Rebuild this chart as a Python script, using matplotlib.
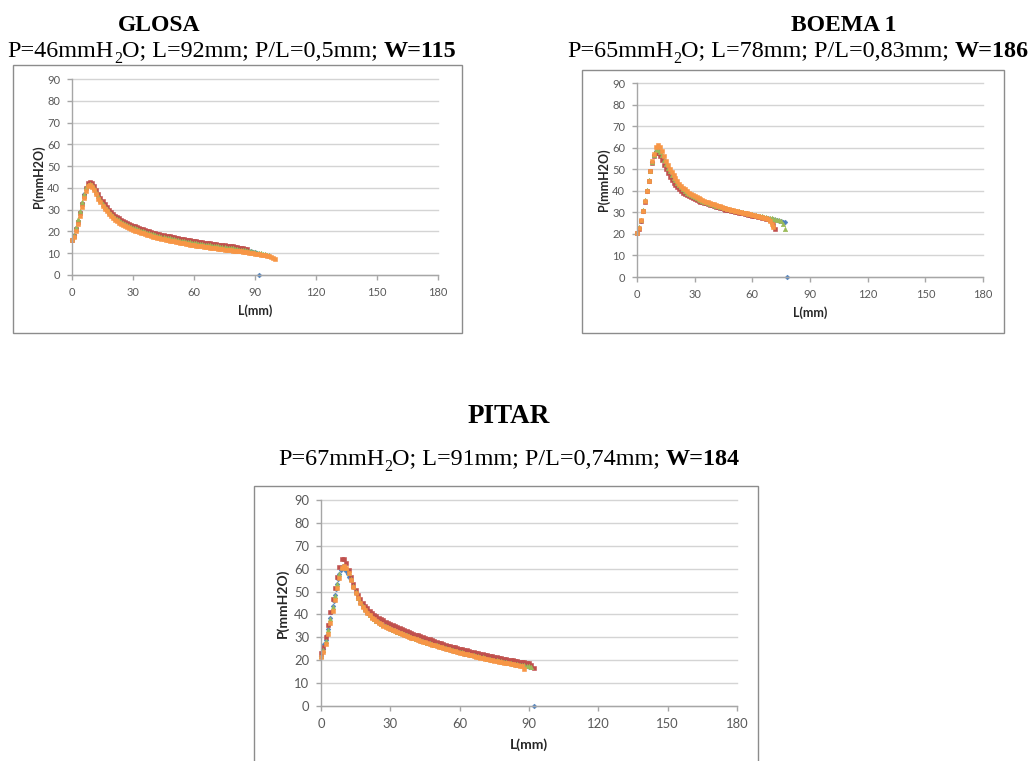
import numpy as np
import matplotlib
matplotlib.use("Agg")
import matplotlib.pyplot as plt
from matplotlib.patches import Rectangle

# ---------------- DATA ----------------
ticks_x = [0, 30, 60, 90, 120, 150, 180]
ticks_y = [0, 10, 20, 30, 40, 50, 60, 70, 80, 90]
series_colors = ["#4F81BD", "#C0504D", "#9BBB59", "#F79646"]

titles = ["GLOSA", "BOEMA 1", "PITAR"]
sub_P = ["46", "65", "67"]
sub_L = ["92", "78", "91"]
sub_PL = ["0,5", "0,83", "0,74"]
sub_W = ["115", "186", "184"]

# GLOSA (L sampled every 1 mm)
glosa_blue = [16.3, 18.2, 21.5, 25.0, 29.0, 33.0, 37.0, 40.0, 41.5, 41.9,
              41.3, 39.9, 38.1, 36.2, 34.5, 32.9, 31.5, 30.3, 29.2, 28.2,
              27.3, 26.5, 25.8, 25.2, 24.6, 24.1, 23.6, 23.1, 22.7, 22.3,
              21.9, 21.5, 21.1, 20.8, 20.5, 20.2, 19.9, 19.6, 19.3, 19.0,
              18.7, 18.5, 18.2, 18.0, 17.7, 17.5, 17.3, 17.1, 16.9, 16.7,
              16.5, 16.3, 16.1, 15.9, 15.7, 15.6, 15.4, 15.2, 15.1, 14.9,
              14.8, 14.6, 14.5, 14.3, 14.2, 14.1, 13.9, 13.8, 13.7, 13.5,
              13.4, 13.3, 13.2, 13.0, 12.9, 12.8, 12.7, 12.5, 12.4, 12.3,
              12.1, 12.0, 11.8, 11.7, 11.5, 11.4, 11.2, 11.1, 10.9, 10.7,
              10.5, 10.3, 0.0]
glosa_red = [16.2, 18.0, 21.0, 24.5, 28.5, 32.5, 36.5, 40.0, 42.2, 42.8,
             42.2, 40.8, 39.0, 37.1, 35.4, 33.8, 32.4, 31.1, 30.0, 29.0,
             28.1, 27.3, 26.6, 26.0, 25.4, 24.9, 24.4, 23.9, 23.5, 23.1,
             22.7, 22.3, 21.9, 21.6, 21.3, 21.0, 20.7, 20.4, 20.1, 19.8,
             19.5, 19.3, 19.0, 18.8, 18.5, 18.3, 18.1, 17.9, 17.7, 17.5,
             17.3, 17.1, 16.9, 16.7, 16.5, 16.4, 16.2, 16.0, 15.9, 15.7,
             15.6, 15.4, 15.3, 15.1, 15.0, 14.9, 14.7, 14.6, 14.5, 14.3,
             14.2, 14.1, 14.0, 13.8, 13.7, 13.6, 13.5, 13.3, 13.2, 13.1,
             12.9, 12.8, 12.6, 12.5, 12.3, 12.1, 11.8]
glosa_green = [16.5, 18.5, 22.0, 25.5, 29.5, 33.5, 37.3, 40.2, 41.5, 41.8,
               41.2, 39.8, 38.0, 36.1, 34.4, 32.8, 31.4, 30.2, 29.1, 28.1,
               27.2, 26.4, 25.7, 25.1, 24.5, 24.0, 23.5, 23.0, 22.6, 22.2,
               21.8, 21.4, 21.0, 20.7, 20.4, 20.1, 19.8, 19.5, 19.2, 18.9,
               18.6, 18.4, 18.1, 17.9, 17.6, 17.4, 17.2, 17.0, 16.8, 16.6,
               16.4, 16.2, 16.0, 15.8, 15.6, 15.5, 15.3, 15.1, 15.0, 14.8,
               14.7, 14.5, 14.4, 14.2, 14.1, 14.0, 13.8, 13.7, 13.6, 13.4,
               13.3, 13.2, 13.1, 12.9, 12.8, 12.7, 12.6, 12.4, 12.3, 12.2,
               12.0, 11.9, 11.7, 11.6, 11.4, 11.3, 11.1, 11.0, 10.8, 10.6,
               10.5, 10.3, 10.1, 9.9, 9.7, 9.5, 9.3, 9.1]
glosa_orange = [16.0, 17.5, 20.3, 23.5, 27.3, 31.3, 35.3, 38.8, 40.8, 41.3,
                40.5, 38.9, 37.0, 35.1, 33.4, 31.8, 30.4, 29.2, 28.1, 27.1,
                26.2, 25.4, 24.7, 24.1, 23.5, 23.0, 22.5, 22.0, 21.6, 21.2,
                20.8, 20.4, 20.0, 19.7, 19.4, 19.1, 18.8, 18.5, 18.2, 17.9,
                17.6, 17.4, 17.1, 16.9, 16.6, 16.4, 16.2, 16.0, 15.8, 15.6,
                15.4, 15.2, 15.0, 14.8, 14.6, 14.5, 14.3, 14.1, 14.0, 13.8,
                13.7, 13.5, 13.4, 13.2, 13.1, 13.0, 12.8, 12.7, 12.6, 12.4,
                12.3, 12.2, 12.1, 11.9, 11.8, 11.7, 11.6, 11.5, 11.3, 11.2,
                11.1, 11.0, 10.9, 10.8, 10.6, 10.5, 10.4, 10.3, 10.1, 10.0,
                9.8, 9.7, 9.5, 9.4, 9.2, 9.0, 8.8, 8.6, 8.3, 8.0, 7.5]

# BOEMA 1 (L sampled every 1 mm)
boema_blue = [20.5, 22.7, 26.2, 30.7, 35.2, 40.0, 44.6, 49.0, 53.2, 56.4,
              58.5, 58.7, 57.9, 56.2, 54.2, 52.2, 50.4, 48.7, 47.2, 45.8,
              44.5, 43.3, 42.2, 41.3, 40.4, 39.6, 38.9, 38.3, 37.7, 37.2,
              36.7, 36.2, 35.8, 35.4, 35.0, 34.6, 34.3, 34.0, 33.7, 33.4,
              33.1, 32.8, 32.5, 32.3, 32.0, 31.8, 31.5, 31.3, 31.1, 30.9,
              30.7, 30.5, 30.3, 30.1, 29.9, 29.7, 29.5, 29.3, 29.1, 28.9,
              28.7, 28.5, 28.3, 28.1, 27.9, 27.8, 27.6, 27.4, 27.3, 27.1,
              26.9, 26.7, 26.5, 26.3, 26.1, 25.9, 25.6, 25.3, 0.0]
boema_red = [20.5, 22.5, 26.0, 30.5, 35.0, 40.0, 44.5, 49.0, 53.0, 56.0,
             57.5, 57.5, 56.2, 54.2, 52.0, 50.0, 48.2, 46.6, 45.1, 43.8,
             42.6, 41.6, 40.7, 39.9, 39.2, 38.6, 38.0, 37.5, 37.0, 36.6,
             36.2, 35.8, 35.4, 35.0, 34.7, 34.4, 34.1, 33.8, 33.5, 33.2,
             32.9, 32.6, 32.4, 32.1, 31.8, 31.6, 31.3, 31.1, 30.9, 30.7,
             30.5, 30.3, 30.1, 29.9, 29.7, 29.5, 29.3, 29.1, 28.9, 28.7,
             28.5, 28.3, 28.1, 27.9, 27.7, 27.5, 27.3, 27.1, 26.8, 26.4,
             25.4, 24.0, 22.4]
boema_green = [20.8, 23.0, 26.5, 31.0, 35.5, 40.2, 44.8, 49.2, 53.4, 56.6,
               58.8, 59.0, 58.2, 56.5, 54.5, 52.5, 50.7, 49.0, 47.5, 46.1,
               44.8, 43.6, 42.5, 41.6, 40.7, 39.9, 39.2, 38.6, 38.0, 37.5,
               37.0, 36.5, 36.1, 35.7, 35.3, 34.9, 34.6, 34.3, 34.0, 33.7,
               33.4, 33.1, 32.8, 32.6, 32.3, 32.1, 31.8, 31.6, 31.4, 31.2,
               31.0, 30.8, 30.6, 30.4, 30.2, 30.0, 29.8, 29.6, 29.4, 29.2,
               29.0, 28.8, 28.6, 28.4, 28.2, 28.1, 27.9, 27.7, 27.6, 27.4,
               27.2, 27.0, 26.8, 26.6, 26.4, 26.0, 24.8, 22.5]
boema_orange = [20.5, 22.8, 26.4, 30.8, 35.4, 40.0, 44.7, 49.3, 53.8, 57.0,
                60.3, 61.2, 60.5, 58.6, 56.2, 54.0, 52.0, 50.2, 48.6, 47.1,
                45.7, 44.4, 43.3, 42.3, 41.4, 40.6, 39.9, 39.2, 38.6, 38.1,
                37.6, 37.1, 36.6, 36.2, 35.8, 35.4, 35.0, 34.6, 34.3, 34.0,
                33.7, 33.4, 33.1, 32.8, 32.5, 32.2, 31.9, 31.7, 31.4, 31.2,
                30.9, 30.7, 30.5, 30.3, 30.1, 29.9, 29.7, 29.5, 29.3, 29.1,
                28.9, 28.7, 28.5, 28.3, 28.0, 27.8, 27.5, 27.2, 26.8, 26.0,
                24.5, 23.3]

# PITAR (blue: every 0.5 mm up to 12 mm, then every 1 mm)
pitar_blue_L = list(np.arange(0, 12.5, 0.5)) + list(range(13, 93))
pitar_blue = [22.0, 23.5, 25.0, 27.0, 29.0, 31.2, 33.5, 36.0, 38.5, 41.0,
              43.5, 46.0, 48.5, 51.0, 53.3, 55.5, 57.5, 59.3, 60.5, 61.0,
              60.8, 60.0, 59.0, 57.8, 56.5,
              55.0, 52.1, 49.5, 47.2, 45.2, 43.5, 42.0,
              40.8, 39.7, 38.7, 37.9, 37.1, 36.4, 35.8, 35.2, 34.7, 34.2,
              33.7, 33.2, 32.8, 32.3, 31.9, 31.5, 31.1, 30.7, 30.3, 29.9,
              29.6, 29.2, 28.9, 28.5, 28.2, 27.9, 27.5, 27.2, 26.9, 26.6,
              26.3, 26.0, 25.7, 25.4, 25.1, 24.8, 24.5, 24.2, 24.0, 23.7,
              23.4, 23.2, 22.9, 22.7, 22.4, 22.2, 21.9, 21.7, 21.5, 21.2,
              21.0, 20.8, 20.5, 20.3, 20.1, 19.9, 19.7, 19.5, 19.3, 19.1,
              18.9, 18.7, 18.5, 18.3, 18.1, 18.0, 17.8, 17.7, 17.5, 17.4,
              17.2, 16.9, 0.0]
pitar_red = [23.0, 25.9, 30.3, 35.5, 41.2, 46.6, 51.7, 56.2, 60.9, 64.2,
             64.3, 62.5, 59.5, 56.2, 53.2, 50.6, 48.4, 46.6, 45.1, 43.8,
             42.6, 41.6, 40.7, 39.9, 39.2, 38.6, 38.0, 37.4, 36.9, 36.4,
             35.9, 35.4, 35.0, 34.5, 34.1, 33.7, 33.3, 32.9, 32.5, 32.1,
             31.6, 31.2, 30.9, 30.5, 30.2, 29.8, 29.4, 29.1, 28.7, 28.4,
             28.0, 27.7, 27.4, 27.0, 26.7, 26.4, 26.1, 25.8, 25.6, 25.3,
             25.0, 24.8, 24.5, 24.3, 24.0, 23.8, 23.5, 23.3, 23.1, 22.8,
             22.6, 22.4, 22.2, 21.9, 21.7, 21.5, 21.3, 21.1, 20.9, 20.7,
             20.5, 20.3, 20.1, 19.9, 19.8, 19.6, 19.4, 19.3, 19.1, 18.9,
             18.6, 18.0, 16.5]
pitar_green = [22.0, 24.5, 28.5, 33.0, 38.0, 43.2, 48.2, 53.2, 57.5, 60.8,
               61.2, 60.4, 58.2, 55.3, 52.3, 49.7, 47.4, 45.4, 43.7, 42.2,
               41.0, 39.9, 38.9, 38.1, 37.3, 36.6, 36.0, 35.4, 34.9, 34.4,
               33.9, 33.4, 33.0, 32.5, 32.1, 31.7, 31.3, 30.9, 30.5, 30.1,
               29.8, 29.4, 29.1, 28.7, 28.4, 28.1, 27.7, 27.4, 27.1, 26.8,
               26.5, 26.2, 25.9, 25.6, 25.3, 25.0, 24.7, 24.4, 24.2, 23.9,
               23.6, 23.4, 23.1, 22.9, 22.6, 22.4, 22.1, 21.9, 21.7, 21.4,
               21.2, 21.0, 20.7, 20.5, 20.3, 20.1, 19.9, 19.7, 19.5, 19.3,
               19.1, 18.9, 18.7, 18.5, 18.3, 18.2, 18.0, 17.9, 17.7, 17.6,
               17.4, 17.0]
pitar_orange = [21.2, 23.5, 27.0, 31.5, 36.3, 41.5, 46.5, 51.5, 55.8, 60.5,
                61.0, 60.3, 58.0, 55.0, 52.0, 49.3, 47.0, 45.0, 43.3, 41.9,
                40.7, 39.6, 38.6, 37.8, 37.0, 36.3, 35.7, 35.1, 34.6, 34.1,
                33.6, 33.1, 32.7, 32.2, 31.8, 31.4, 31.0, 30.6, 30.2, 29.8,
                29.5, 29.1, 28.8, 28.4, 28.1, 27.8, 27.4, 27.1, 26.8, 26.5,
                26.2, 25.9, 25.6, 25.3, 25.0, 24.7, 24.4, 24.1, 23.9, 23.6,
                23.3, 23.1, 22.8, 22.6, 22.3, 22.1, 21.8, 21.6, 21.4, 21.1,
                20.9, 20.7, 20.4, 20.2, 20.0, 19.8, 19.6, 19.4, 19.2, 19.0,
                18.8, 18.6, 18.4, 18.2, 18.0, 17.8, 17.6, 17.3, 16.0]

charts = [
    [(None, glosa_blue), (None, glosa_red), (None, glosa_green), (None, glosa_orange)],
    [(None, boema_blue), (None, boema_red), (None, boema_green), (None, boema_orange)],
    [(pitar_blue_L, pitar_blue), (None, pitar_red), (None, pitar_green), (None, pitar_orange)],
]

# ---------------- LAYOUT (pixels) ----------------
W, H = 1030, 761
fig = plt.figure(figsize=(W / 100, H / 100), dpi=100)
fig.patch.set_facecolor("white")

def fx(px):
    return px / W

def fy(py):
    return 1 - py / H

boxes = [(13, 65, 462, 333), (582, 70, 1004, 333), (254, 486, 758, 770)]
plots = [(72, 79, 438, 275), (637, 83, 983, 277), (321, 500, 737, 706)]
title_pos = [(159, 31), (844, 31), (509, 423)]
title_size = [17, 17, 19.5]
sub_pos = [(232, 57), (798, 57), (509, 465)]
sub_size = [17.4, 17.4, 17.4]
tick_size = [8.0, 8.0, 9.4]
label_size = [9.0, 9.0, 10.0]
xlabel_pad = [5, 5, 6]
ylabel_pad = [1.5, 1.5, 4]
markers = ["D", "s", "^", "s"]
msizes = [2.4, 3.1, 3.2, 3.1]

serif = "Liberation Serif"
sans = "Lato"

# frames
for (x0, y0, x1, y1) in boxes:
    fig.patches.append(Rectangle((fx(x0), fy(y1)), fx(x1) - fx(x0), fy(y0) - fy(y1),
                                 transform=fig.transFigure, fill=False,
                                 edgecolor="#8C8C8C", linewidth=1.0))

renderer = fig.canvas.get_renderer()

def rich_line(xc, yb, segs, size):
    """segs: list of (text, bold, sub)."""
    objs = []
    total = 0.0
    for txt, bold, sub in segs:
        s = size * 0.65 if sub else size
        t = fig.text(0, 0, txt, fontsize=s, family=serif,
                     fontweight="bold" if bold else "normal",
                     ha="left", va="baseline", color="black")
        w = t.get_window_extent(renderer).width
        objs.append((t, w, sub, s))
        total += w
    x = xc - total / 2
    for t, w, sub, s in objs:
        off = -size * 0.32 if sub else 0
        t.set_position((fx(x), fy(yb - off)))
        x += w

for i in range(3):
    fig.text(fx(title_pos[i][0]), fy(title_pos[i][1]), titles[i], fontsize=title_size[i],
             family=serif, fontweight="bold", ha="center", va="baseline")
    segs = [("P=" + sub_P[i] + "mmH", False, False), ("2", False, True),
            ("O; L=" + sub_L[i] + "mm; P/L=" + sub_PL[i] + "mm; ", False, False),
            ("W=" + sub_W[i], True, False)]
    rich_line(sub_pos[i][0], sub_pos[i][1], segs, sub_size[i])

    x0, y0, x1, y1 = plots[i]
    ax = fig.add_axes([fx(x0), fy(y1), fx(x1) - fx(x0), fy(y0) - fy(y1)])
    ax.set_facecolor("none")
    ax.set_xlim(0, 180)
    ax.set_ylim(0, 90)
    ax.set_xticks(ticks_x)
    ax.set_yticks(ticks_y)
    ax.yaxis.grid(True, color="#D4D4D4", linewidth=1.0)
    for gl in ax.get_ygridlines():
        gl.set_clip_on(False)
    ax.set_axisbelow(True)
    for s in ["top", "right"]:
        ax.spines[s].set_visible(False)
    for s in ["left", "bottom"]:
        ax.spines[s].set_color("#A6A6A6")
        ax.spines[s].set_linewidth(1.0)
    ax.tick_params(axis="both", direction="out", length=3.5, width=1.0, color="#A6A6A6",
                   labelsize=tick_size[i], labelcolor="#595959", pad=5)
    for lab in ax.get_xticklabels() + ax.get_yticklabels():
        lab.set_family(sans)
    ax.set_xlabel("L(mm)", fontsize=label_size[i], fontweight="bold", family=sans,
                  color="#262626", labelpad=xlabel_pad[i])
    ax.set_ylabel("P(mmH2O)", fontsize=label_size[i], fontweight="bold", family=sans,
                  color="#262626", labelpad=ylabel_pad[i])

    for k, (L, P) in enumerate(charts[i]):
        xs = np.arange(len(P)) if L is None else np.asarray(L)
        ax.plot(xs, P, ls="none", marker=markers[k], ms=msizes[k],
                color=series_colors[k], mec=series_colors[k], mew=0.4, clip_on=False)

fig.savefig("out.png", dpi=100, facecolor="white")
